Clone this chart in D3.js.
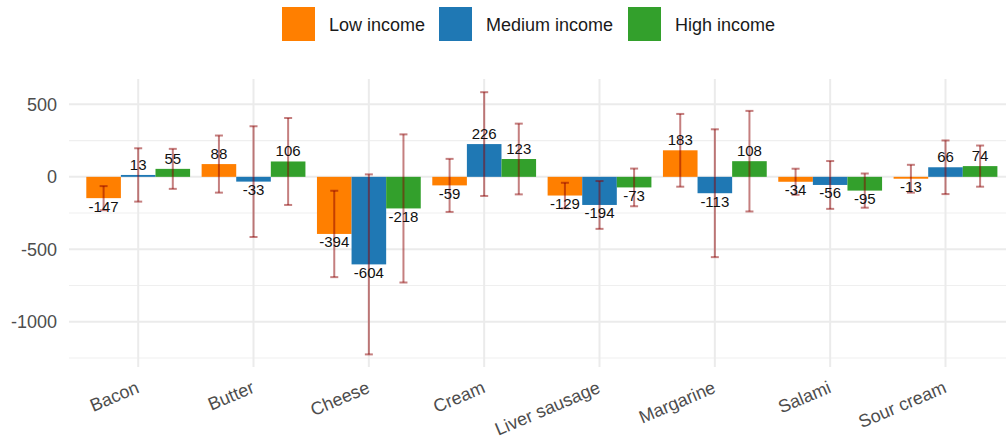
<!DOCTYPE html>
<html>
<head>
<meta charset="utf-8">
<script src="https://cdn.jsdelivr.net/npm/d3@7"></script>
<style>
  html, body { margin: 0; padding: 0; background: #fff; }
  svg { display: block; font-family: "Liberation Sans", Arial, Helvetica, sans-serif; }
</style>
</head>
<body>
<svg id="chart" width="1006" height="446"></svg>
<script>
// ---- data ----
const categories = ["Bacon", "Butter", "Cheese", "Cream", "Liver sausage", "Margarine", "Salami", "Sour cream"];
const seriesNames = ["Low income", "Medium income", "High income"];
const lowValues  = [-147, 88, -394, -59, -129, 183, -34, -13];
const medValues  = [13, -33, -604, 226, -194, -113, -56, 66];
const highValues = [55, 106, -218, 123, -73, 108, -95, 74];
const lowErrors  = [83, 197, 298, 183, 88, 251, 90, 96];
const medErrors  = [184, 382, 621, 358, 165, 441, 165, 185];
const highErrors = [138, 300, 511, 244, 130, 347, 118, 142];
const majorTicks = [-1000, -500, 0, 500];
const minorTicks = [-1250, -750, -250, 250];
const seriesColors = ["#ff7f00", "#1f78b4", "#33a02c"];

const valueSets = [lowValues, medValues, highValues];
const errorSets = [lowErrors, medErrors, highErrors];
const rows = [];
categories.forEach((c, ci) => {
  seriesNames.forEach((s, si) => {
    rows.push({ cat: c, series: s, si: si, value: valueSets[si][ci], err: errorSets[si][ci] });
  });
});

// ---- layout ----
const svg = d3.select("#chart");
const panel = { left: 69, right: 1014.7, top: 79, bottom: 367 };

const x = d3.scalePoint().domain(categories).range([panel.left, panel.right]).padding(0.6);
const step = x.step();
const barW = step * 0.3;
const xSub = d3.scaleBand().domain(seriesNames).range([-step * 0.45, step * 0.45]);
const y = d3.scaleLinear().domain([-1312, 675]).range([panel.bottom, panel.top]);
const color = d3.scaleOrdinal().domain(seriesNames).range(seriesColors);

// ---- grid ----
const grid = svg.append("g");
grid.selectAll("line.minor").data(minorTicks).join("line")
  .attr("x1", panel.left).attr("x2", panel.right)
  .attr("y1", d => y(d)).attr("y2", d => y(d))
  .attr("stroke", "#efefef").attr("stroke-width", 1.1);
grid.selectAll("line.major").data(majorTicks).join("line")
  .attr("x1", panel.left).attr("x2", panel.right)
  .attr("y1", d => y(d)).attr("y2", d => y(d))
  .attr("stroke", "#ebebeb").attr("stroke-width", 2);
grid.selectAll("line.vert").data(categories).join("line")
  .attr("x1", d => x(d)).attr("x2", d => x(d))
  .attr("y1", panel.top).attr("y2", panel.bottom)
  .attr("stroke", "#ebebeb").attr("stroke-width", 2);

// ---- y axis ----
const yAxis = svg.append("g")
  .attr("transform", `translate(${panel.left},0)`)
  .call(d3.axisLeft(y).tickValues(majorTicks).tickSize(0).tickPadding(12).tickFormat(d => String(d)));
yAxis.select(".domain").remove();
yAxis.selectAll("text")
  .attr("font-size", 18)
  .attr("fill", "#4d4d4d")
  .attr("font-family", "'Liberation Sans', Arial, sans-serif");

// ---- x axis ----
const xAxis = svg.append("g")
  .attr("transform", `translate(0,${panel.bottom})`)
  .call(d3.axisBottom(x).tickSize(0).tickPadding(0));
xAxis.select(".domain").remove();
xAxis.selectAll(".tick").attr("transform", null);
xAxis.selectAll(".tick text")
  .attr("font-size", 18)
  .attr("fill", "#4d4d4d")
  .attr("font-family", "'Liberation Sans', Arial, sans-serif")
  .attr("text-anchor", "end")
  .attr("dy", null)
  .attr("y", null)
  .attr("transform", d => `translate(${x(d) + 2},${392 - panel.bottom}) rotate(-23)`);

// ---- bars ----
svg.append("g").selectAll("rect").data(rows).join("rect")
  .attr("x", d => x(d.cat) + xSub(d.series) + (xSub.bandwidth() - barW) / 2)
  .attr("width", barW)
  .attr("y", d => y(Math.max(0, d.value)))
  .attr("height", d => Math.abs(y(d.value) - y(0)))
  .attr("fill", d => color(d.series));

// ---- error bars ----
const eb = svg.append("g")
  .attr("stroke", "#8b0000").attr("stroke-opacity", 0.5).attr("stroke-width", 2);
const cx = d => x(d.cat) + xSub(d.series) + xSub.bandwidth() / 2;
eb.selectAll("line.v").data(rows).join("line")
  .attr("x1", cx).attr("x2", cx)
  .attr("y1", d => y(d.value + d.err)).attr("y2", d => y(d.value - d.err));
eb.selectAll("line.t").data(rows).join("line")
  .attr("x1", d => cx(d) - 4).attr("x2", d => cx(d) + 4)
  .attr("y1", d => y(d.value + d.err)).attr("y2", d => y(d.value + d.err));
eb.selectAll("line.b").data(rows).join("line")
  .attr("x1", d => cx(d) - 4).attr("x2", d => cx(d) + 4)
  .attr("y1", d => y(d.value - d.err)).attr("y2", d => y(d.value - d.err));

// ---- value labels ----
svg.append("g").selectAll("text").data(rows).join("text")
  .attr("x", cx)
  .attr("y", d => d.value >= 0 ? y(d.value) - 5 : y(d.value) + 13.5)
  .attr("text-anchor", "middle")
  .attr("font-size", 15)
  .attr("fill", "#111")
  .text(d => d.value);

// ---- legend ----
const legendX = [282, 439, 628];
const leg = svg.append("g");
const items = leg.selectAll("g").data(seriesNames).join("g")
  .attr("transform", (d, i) => `translate(${legendX[i]},7)`);
items.append("rect").attr("width", 33).attr("height", 34).attr("fill", d => color(d));
items.append("text").attr("x", 47).attr("y", 24).attr("font-size", 18).attr("fill", "#1a1a1a").text(d => d);
</script>
</body>
</html>
